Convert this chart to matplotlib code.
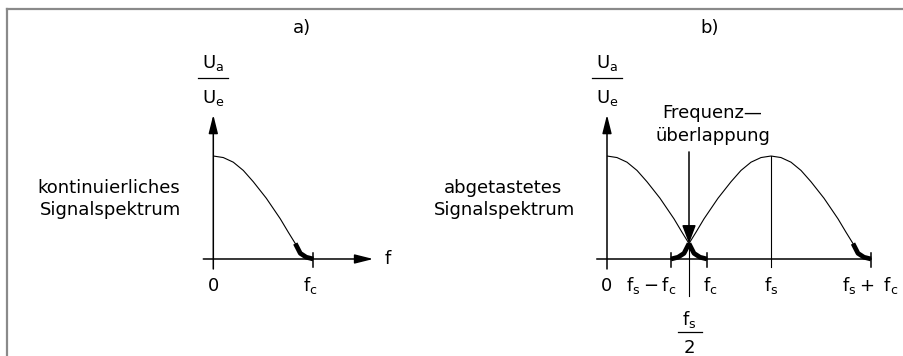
import matplotlib
matplotlib.use("Agg")
from matplotlib import pyplot as plt
from matplotlib.lines import Line2D
import numpy as np

# ################ Data ################ #
# normalised spectrum shape: distance from the centre frequency (in units of f_c) and relative amplitude
profile_offset = [0.0, 0.1, 0.2, 0.3, 0.4, 0.53, 0.67, 0.75, 0.82, 0.87, 0.93, 1.0]
profile_height = [1.0, 0.985, 0.94, 0.86, 0.75, 0.59, 0.39, 0.26, 0.15, 0.055, 0.017, 0.0]
tail_start = 0.82          # part of the spectrum drawn bold (aliasing region)

f_c = 1.0                  # cut-off frequency
f_s = 1.64                 # sampling frequency

tick_labels_a = ["0", "$f_c$"]
tick_labels_b = ["0", "$f_s\u2212f_c$", "$f_c$", "$f_s$", "$f_s+\\ f_c$"]

plt.rcParams["font.family"] = ["DejaVu Sans"]
plt.rcParams["mathtext.default"] = "regular"

FS = 13
LW_AX = 1.1
LW_CURVE = 0.8
LW_BOLD = 3.4

fig = plt.figure(figsize=(9.04, 3.56), dpi=100)

# frame lines (left and top)
fig.add_artist(Line2D([7 / 904, 7 / 904], [0, 1 - 9 / 356], color="#8a8a8a", lw=1.6))
fig.add_artist(Line2D([7 / 904, 1], [1 - 9 / 356, 1 - 9 / 356], color="#8a8a8a", lw=1.6))

ax_a = fig.add_axes([0, 0, 0.5, 1])
ax_b = fig.add_axes([0.5, 0, 0.5, 1])
ax_a.set_xlim(-2.133, 2.387)
ax_b.set_xlim(-1.55, 2.97)
for ax in (ax_a, ax_b):
    ax.set_ylim(-0.942, 2.515)
    ax.axis("off")

offs = np.array(profile_offset)
hts = np.array(profile_height)
bold = offs >= tail_start


def arrow(ax, start, tip, ms=14, hw=0.2):
    ax.annotate("", xy=tip, xytext=start,
                arrowprops=dict(arrowstyle=f"-|>,head_length=0.8,head_width={hw}",
                                mutation_scale=ms, lw=LW_AX, color="black",
                                shrinkA=0, shrinkB=0))


def spectrum(ax, centre, both_sides):
    sides = [1, -1] if both_sides else [1]
    for s in sides:
        x = centre + s * offs * f_c
        ax.plot(x, hts, color="black", lw=LW_CURVE, solid_capstyle="butt")
        ax.plot(x[bold], hts[bold], color="black", lw=LW_BOLD, solid_capstyle="butt")


def ratio_label(ax):
    ax.text(0, 1.90, "$U_a$", ha="center", va="center", fontsize=FS)
    ax.plot([-0.15, 0.15], [1.757, 1.757], color="black", lw=0.9)
    ax.text(0, 1.56, "$U_e$", ha="center", va="center", fontsize=FS)


def tick(ax, x):
    ax.plot([x, x], [0.058, -0.078], color="black", lw=LW_AX)


# ################ Panel a: continuous spectrum ################ #
ax = ax_a
ax.text(0.887, 2.243, "a)", ha="center", va="center", fontsize=FS)
ratio_label(ax)
arrow(ax, (0, -0.097), (0, 1.40))
arrow(ax, (-0.1, 0), (1.6, 0))
tick(ax, f_c)
spectrum(ax, 0.0, False)
ax.text(-1.05, 0.69, "kontinuierliches", ha="center", va="center", fontsize=FS)
ax.text(-1.03, 0.475, "Signalspektrum", ha="center", va="center", fontsize=FS)
ax.text(0, -0.262, tick_labels_a[0], ha="center", va="center", fontsize=FS)
ax.text(f_c - 0.03, -0.262, tick_labels_a[1], ha="center", va="center", fontsize=FS)
ax.text(1.74, 0.0, "f", ha="center", va="center", fontsize=FS)

# ################ Panel b: sampled spectrum ################ #
ax = ax_b
ax.text(1.03, 2.243, "b)", ha="center", va="center", fontsize=FS)
ratio_label(ax)
arrow(ax, (0, -0.097), (0, 1.40))
ax.plot([-0.1, f_s + f_c], [0, 0], color="black", lw=LW_AX)
for x in (f_s - f_c, f_c, f_s + f_c):
    tick(ax, x)
spectrum(ax, 0.0, False)
spectrum(ax, f_s, True)

# line at f_s and marker line at f_s/2 with arrow onto the overlap
ax.plot([f_s, f_s], [1.0, -0.078], color="black", lw=LW_CURVE)
half = f_s / 2
ax.plot([half, half], [0.15, -0.36], color="black", lw=LW_CURVE)
arrow(ax, (half, 1.04), (half, 0.15), ms=14, hw=0.3)

ax.text(1.05, 1.417, "Frequenz\u2014", ha="center", va="center", fontsize=FS)
ax.text(1.06, 1.194, "überlappung", ha="center", va="center", fontsize=FS)
ax.text(-1.04, 0.69, "abgetastetes", ha="center", va="center", fontsize=FS)
ax.text(-1.02, 0.475, "Signalspektrum", ha="center", va="center", fontsize=FS)

ax.text(0, -0.262, tick_labels_b[0], ha="center", va="center", fontsize=FS)
ax.text(0.44, -0.262, tick_labels_b[1], ha="center", va="center", fontsize=FS)
ax.text(f_c + 0.03, -0.262, tick_labels_b[2], ha="center", va="center", fontsize=FS)
ax.text(f_s, -0.262, tick_labels_b[3], ha="center", va="center", fontsize=FS)
ax.text(2.35, -0.262, tick_labels_b[4], ha="left", va="center", fontsize=FS)

ax.text(half, -0.59, "$f_s$", ha="center", va="center", fontsize=FS)
ax.plot([half - 0.11, half + 0.13], [-0.709, -0.709], color="black", lw=0.9)
ax.text(half, -0.864, "2", ha="center", va="center", fontsize=FS)

fig.savefig("out.png", dpi=100)
